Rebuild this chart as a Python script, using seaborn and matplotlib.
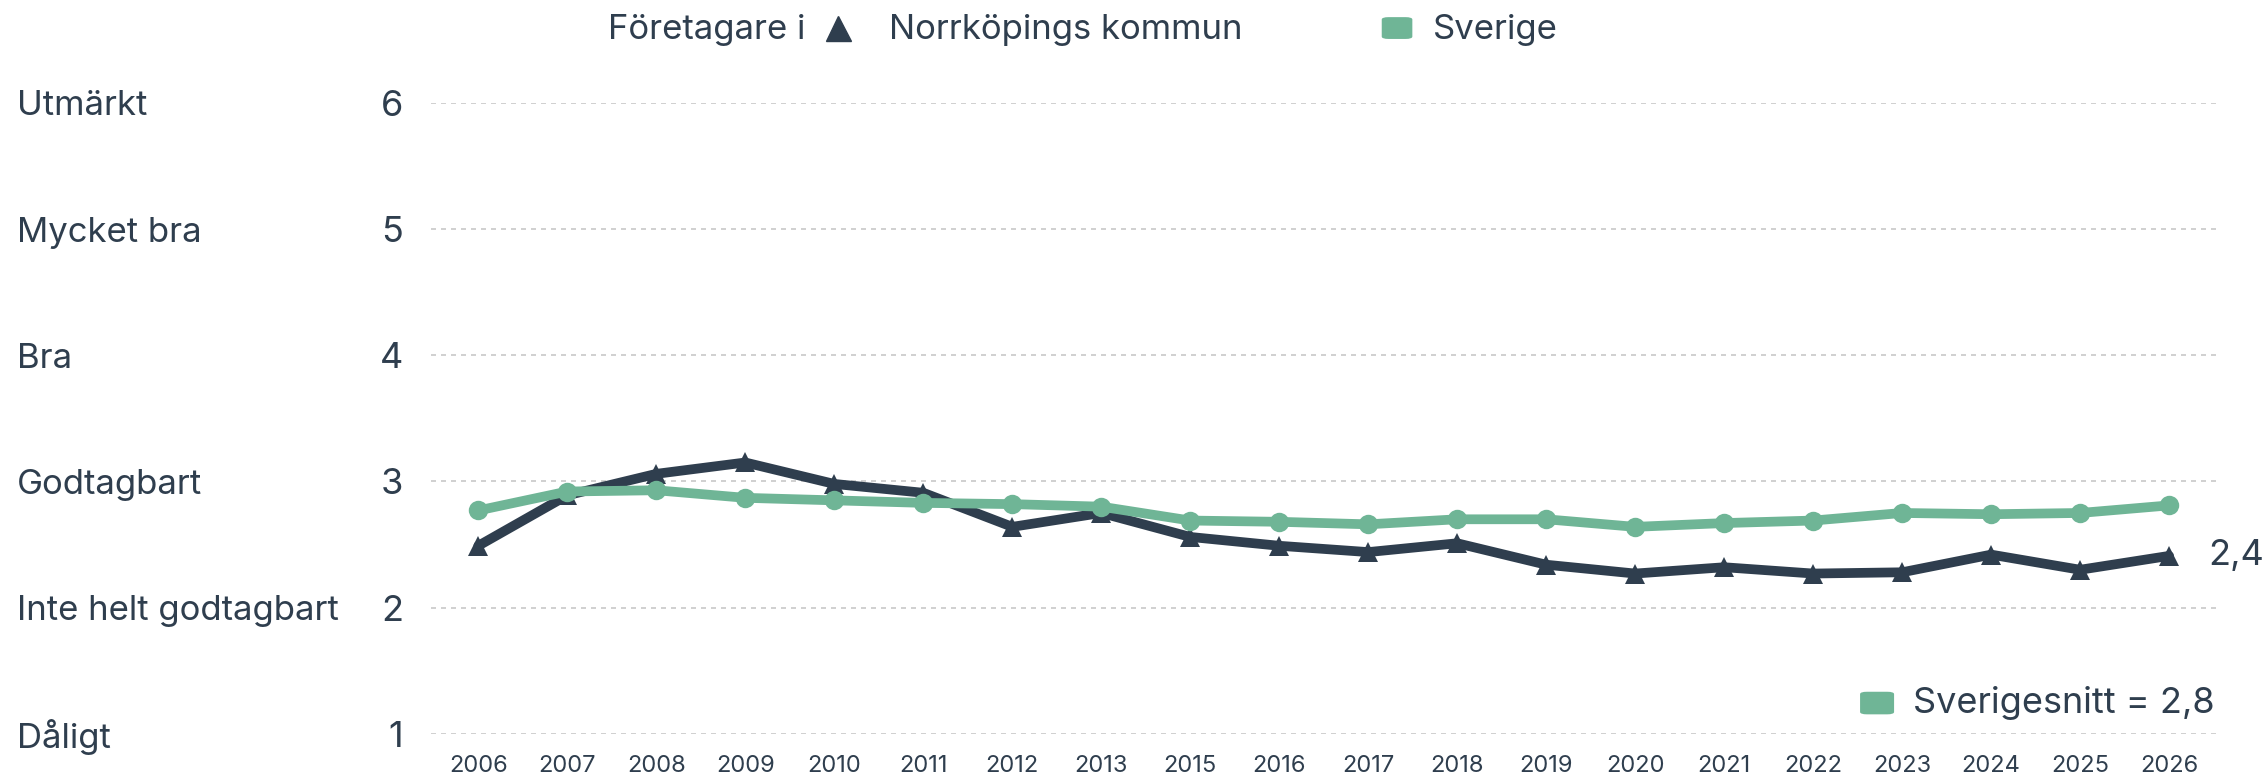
import pandas as pd
import numpy as np
import matplotlib.pyplot as plt
import seaborn as sns
import matplotlib.transforms as mtransforms
from matplotlib.lines import Line2D
from matplotlib.patches import FancyBboxPatch

# Chart data
years = ['2006', '2007', '2008', '2009', '2010', '2011', '2012', '2013', '2015', '2016',
         '2017', '2018', '2019', '2020', '2021', '2022', '2023', '2024', '2025', '2026']
norrkoping = [2.49, 2.89, 3.06, 3.15, 2.98, 2.91, 2.64, 2.75, 2.56, 2.49,
              2.44, 2.51, 2.34, 2.27, 2.32, 2.27, 2.28, 2.42, 2.30, 2.41]
sverige = [2.77, 2.92, 2.93, 2.87, 2.85, 2.83, 2.82, 2.80, 2.69, 2.68,
           2.66, 2.70, 2.70, 2.64, 2.67, 2.69, 2.75, 2.74, 2.75, 2.81]
scale_levels = [1, 2, 3, 4, 5, 6]
scale_labels = ['Dåligt', 'Inte helt godtagbart', 'Godtagbart', 'Bra', 'Mycket bra', 'Utmärkt']
end_label = '2,4'
avg_label = 'Sverigesnitt = 2,8'

DARK = '#2f3e4e'
GREEN = '#6fb596'
TEXT = '#2f3e4e'

sns.set_theme(style='white')
plt.rcParams['font.family'] = ['Inter', 'DejaVu Sans']

df = pd.DataFrame({'year': years, 'norrkoping': norrkoping, 'sverige': sverige})

fig = plt.figure(figsize=(22.67, 7.79), dpi=100)
ax = fig.add_axes([0.190, 0.058, 0.789, 0.810])

sns.lineplot(data=df, x='year', y='norrkoping', sort=False, ax=ax, color=DARK,
             linewidth=7, marker='^', markersize=15, markeredgewidth=0, zorder=3)
sns.lineplot(data=df, x='year', y='sverige', sort=False, ax=ax, color=GREEN,
             linewidth=7, marker='o', markersize=14, markeredgewidth=0, zorder=4)

ax.set_ylim(1, 6)
ax.set_xlim(-0.535, len(years) - 1 + 0.565)
ax.set_yticks(scale_levels)
ax.set_yticklabels([str(v) for v in scale_levels])
ax.yaxis.grid(True, linestyle=(0, (3, 3)), color='#c8c8c8', linewidth=1.2)
ax.xaxis.grid(False)
for s in ax.spines.values():
    s.set_visible(False)
ax.set_xlabel('')
ax.set_ylabel('')
ax.tick_params(axis='y', length=0, pad=20, labelsize=26, labelcolor=TEXT)
ax.tick_params(axis='x', length=0, pad=15, labelsize=17, labelcolor=TEXT)

# scale text labels on far left
lab_trans = mtransforms.blended_transform_factory(fig.transFigure, ax.transData)
for lvl, lab in zip(scale_levels, scale_labels):
    ax.text(0.0075, lvl, lab, transform=lab_trans, ha='left', va='center_baseline',
            fontsize=25, color=TEXT)

# end value label
ax.annotate(end_label, (len(years) - 1, norrkoping[-1]), xytext=(28, 0),
            textcoords='offset points', ha='left', va='center', fontsize=26,
            color=DARK, annotation_clip=False)

# top legend
fig.text(0.268, 0.962, 'Företagare i', ha='left', va='center', fontsize=25, color=TEXT)
fig.add_artist(Line2D([0.3695], [0.964], marker='^', markersize=18, color=DARK,
                      linestyle='none', transform=fig.transFigure))
fig.text(0.392, 0.962, 'Norrköpings kommun', ha='left', va='center', fontsize=25, color=TEXT)
fig.add_artist(FancyBboxPatch((0.6095, 0.950), 0.0135, 0.028, boxstyle='round,pad=0,rounding_size=0.003',
                              transform=fig.transFigure, color=GREEN, linewidth=0))
fig.text(0.632, 0.962, 'Sverige', ha='left', va='center', fontsize=25, color=TEXT)

# bottom-right average legend
fig.add_artist(FancyBboxPatch((0.8205, 0.083), 0.0150, 0.029, boxstyle='round,pad=0,rounding_size=0.003',
                              transform=fig.transFigure, color=GREEN, linewidth=0))
fig.text(0.844, 0.098, avg_label, ha='left', va='center', fontsize=26, color=TEXT)

fig.savefig('out.png', dpi=100)
